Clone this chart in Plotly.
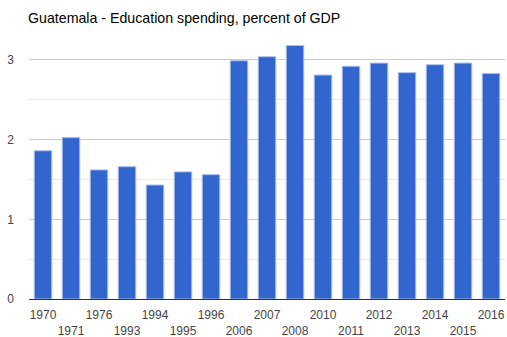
import plotly.graph_objects as go

years = ["1970", "1971", "1976", "1993", "1994", "1995", "1996", "2006", "2007",
         "2008", "2010", "2011", "2012", "2013", "2014", "2015", "2016"]
values = [1.86, 2.025, 1.62, 1.66, 1.43, 1.595, 1.56, 2.99, 3.04,
          3.18, 2.81, 2.92, 2.96, 2.84, 2.94, 2.96, 2.83]
y_ticks = [0, 1, 2, 3]

ticktext = [y if i % 2 == 0 else "<br>" + y for i, y in enumerate(years)]

fig = go.Figure(go.Bar(
    x=years, y=values,
    marker=dict(color="#3366cc", line=dict(color="#a8bdf0", width=1)),
    hoverinfo="x+y",
))

fig.update_layout(
    width=507, height=337,
    margin=dict(l=29, r=2, t=36, b=38, autoexpand=False),
    plot_bgcolor="white", paper_bgcolor="white",
    bargap=0.375,
    font=dict(family="Liberation Sans, Arial, sans-serif", size=12, color="#444"),
    title=dict(text="Guatemala - Education spending, percent of GDP",
               x=28 / 507, xanchor="left", xref="container",
               y=1 - 18 / 337, yanchor="middle", yref="container",
               font=dict(size=14.2, color="#000")),
    showlegend=False,
)
fig.update_xaxes(
    type="category", tickvals=years, ticktext=ticktext,
    showgrid=False, ticks="", showline=False, tickangle=0, automargin=False,
    ticklabelstandoff=7,
    tickfont=dict(size=12, color="#444"),
)
fig.update_yaxes(
    range=[0, 3.3], tickvals=y_ticks, ticks="", automargin=False,
    showgrid=True, gridcolor="#cccccc", gridwidth=1,
    zeroline=True, zerolinecolor="#333333", zerolinewidth=1,
    minor=dict(tickvals=[0.5, 1.5, 2.5], showgrid=True, gridcolor="#ebebeb", gridwidth=1),
    ticklabelstandoff=14,
    tickfont=dict(size=12, color="#444"),
)

fig.write_html("out.html", config={"displayModeBar": False},
               post_script="document.body.style.margin='0';document.body.style.overflow='hidden';")
